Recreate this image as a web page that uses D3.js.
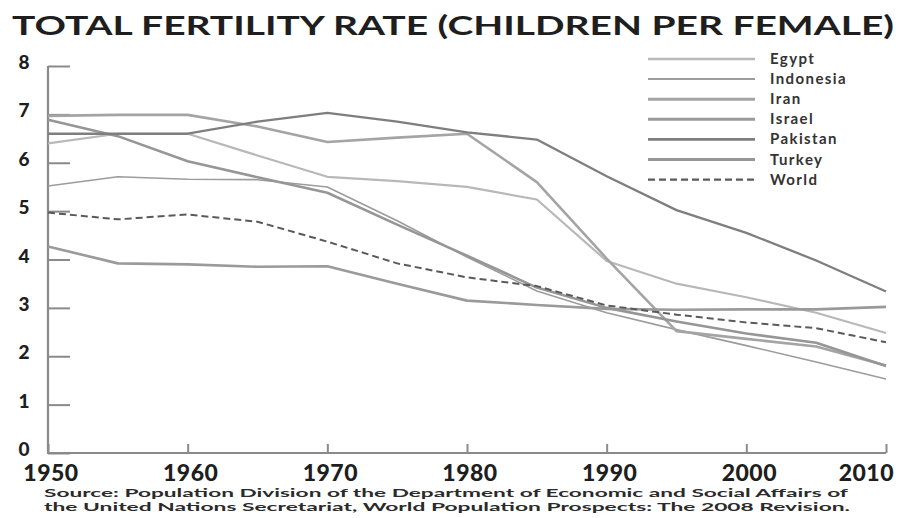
<!DOCTYPE html>
<html>
<head>
<meta charset="utf-8">
<script src="https://cdn.jsdelivr.net/npm/d3@7"></script>
<style>
  html, body { margin: 0; padding: 0; background: #fff; }
  svg { display: block; font-family: Lato, "Open Sans", sans-serif; }
</style>
</head>
<body>
<svg id="chart" width="906" height="518"></svg>
<script>
// ---- data ----
const years = [1950, 1955, 1960, 1965, 1970, 1975, 1980, 1985, 1990, 1995, 2000, 2005, 2010];
const egypt     = [6.40, 6.60, 6.60, 6.15, 5.71, 5.62, 5.50, 5.24, 3.97, 3.50, 3.22, 2.90, 2.48];
const indonesia = [5.52, 5.71, 5.66, 5.65, 5.50, 4.80, 4.05, 3.35, 2.90, 2.55, 2.22, 1.88, 1.53];
const iran      = [6.97, 6.99, 6.99, 6.75, 6.43, 6.52, 6.60, 5.60, 4.02, 2.52, 2.36, 2.20, 1.81];
const israel    = [4.27, 3.92, 3.90, 3.85, 3.86, 3.50, 3.15, 3.06, 2.98, 2.96, 2.97, 2.97, 3.02];
const pakistan  = [6.60, 6.60, 6.60, 6.85, 7.03, 6.85, 6.63, 6.48, 5.72, 5.02, 4.55, 3.98, 3.34];
const turkey    = [6.89, 6.55, 6.03, 5.70, 5.38, 4.72, 4.08, 3.42, 3.00, 2.72, 2.47, 2.28, 1.80];
const world     = [4.97, 4.83, 4.93, 4.78, 4.37, 3.92, 3.63, 3.45, 3.05, 2.86, 2.70, 2.58, 2.29];

const seriesNames = ["Egypt", "Indonesia", "Iran", "Israel", "Pakistan", "Turkey", "World"];
const seriesValues = [egypt, indonesia, iran, israel, pakistan, turkey, world];
const xTicks = [1950, 1960, 1970, 1980, 1990, 2000, 2010];
const yTicks = [0, 1, 2, 3, 4, 5, 6, 7, 8];
const titleText = "TOTAL FERTILITY RATE (CHILDREN PER FEMALE)";
const sourceLines = [
  "Source: Population Division of the Department of Economic and Social Affairs of",
  "the United Nations Secretariat, World Population Prospects: The 2008 Revision."
];

// ---- styles ----
const styles = {
  Egypt:     { color: "#b8b8b8", width: 2.2, dash: null },
  Indonesia: { color: "#9c9c9c", width: 1.6, dash: null },
  Iran:      { color: "#a4a4a4", width: 2.6, dash: null },
  Israel:    { color: "#9a9a9a", width: 2.6, dash: null },
  Pakistan:  { color: "#7e7e7e", width: 2.3, dash: null },
  Turkey:    { color: "#969696", width: 2.6, dash: null },
  World:     { color: "#5a5a5a", width: 2.0, dash: "7,4" }
};

const svg = d3.select("#chart");

const x = d3.scaleLinear().domain([1950, 2010]).range([48, 886]);
const y = d3.scaleLinear().domain([0, 8]).range([453, 66]);

// title
svg.append("text")
  .attr("x", 12).attr("y", 35)
  .attr("textLength", 882).attr("lengthAdjust", "spacingAndGlyphs")
  .style("font-size", "27px").style("font-weight", 700).style("fill", "#1e1e1e")
  .text(titleText);

// y axis
const yAxis = d3.axisRight(y).tickValues(yTicks).tickSize(22).tickFormat("");
const gy = svg.append("g").attr("transform", "translate(48,0)").call(yAxis);
gy.select(".domain").remove();
gy.selectAll(".tick line").attr("stroke", "#8a8a8a").attr("stroke-width", 2);
gy.append("line").attr("x1", 0).attr("x2", 0).attr("y1", y(8)).attr("y2", y(0))
  .attr("stroke", "#8a8a8a").attr("stroke-width", 2.2);

svg.append("g").selectAll("text").data(yTicks).join("text")
  .attr("x", 24).attr("y", d => y(d) + 3)
  .attr("text-anchor", "middle")
  .style("font-size", "19px").style("font-weight", 900).style("fill", "#1e1e1e")
  .text(d => d);

// x axis
const xAxis = d3.axisTop(x).tickValues(xTicks).tickSize(9).tickFormat("");
const gx = svg.append("g").attr("transform", `translate(0,${y(0)})`).call(xAxis);
gx.select(".domain").remove();
gx.selectAll(".tick line").attr("stroke", "#8a8a8a").attr("stroke-width", 2);
gx.append("line").attr("x1", x(1950) - 1).attr("x2", x(2010)).attr("y1", 0).attr("y2", 0)
  .attr("stroke", "#8a8a8a").attr("stroke-width", 2.2);

svg.append("g").selectAll("text").data(xTicks).join("text")
  .attr("x", (d, i) => i === xTicks.length - 1 ? 894 : x(d) + 3)
  .attr("y", 481)
  .attr("text-anchor", (d, i) => i === xTicks.length - 1 ? "end" : "middle")
  .style("font-size", "23px").style("font-weight", 900).style("fill", "#1e1e1e")
  .style("letter-spacing", "0.5px")
  .text(d => d);

// lines
const line = d3.line().x((d, i) => x(years[i])).y(d => y(d));
const order = ["Egypt", "Indonesia", "Iran", "Israel", "Turkey", "World", "Pakistan"];
order.forEach(name => {
  const vals = seriesValues[seriesNames.indexOf(name)];
  const st = styles[name];
  svg.append("path").datum(vals)
    .attr("d", line)
    .attr("fill", "none")
    .attr("stroke", st.color)
    .attr("stroke-width", st.width)
    .attr("stroke-dasharray", st.dash)
    .attr("stroke-linejoin", "round");
});

// legend
const lg = svg.append("g");
seriesNames.forEach((name, i) => {
  const st = styles[name];
  const yy = 59 + i * 20.1;
  lg.append("line").attr("x1", 648).attr("x2", 755).attr("y1", yy).attr("y2", yy)
    .attr("stroke", st.color).attr("stroke-width", st.width + 0.4)
    .attr("stroke-dasharray", st.dash);
  lg.append("text").attr("x", 770).attr("y", yy + 5)
    .style("font-size", "15px").style("font-weight", 700).style("fill", "#333")
    .style("letter-spacing", "1.4px")
    .text(name);
});

// source
sourceLines.forEach((t, i) => {
  svg.append("text").attr("x", 44).attr("y", 497 + i * 14)
    .attr("textLength", i === 0 ? 804 : 806).attr("lengthAdjust", "spacingAndGlyphs")
    .style("font-size", "12px").style("font-weight", 700).style("fill", "#2a2a2a")
    .text(t);
});
</script>
</body>
</html>
